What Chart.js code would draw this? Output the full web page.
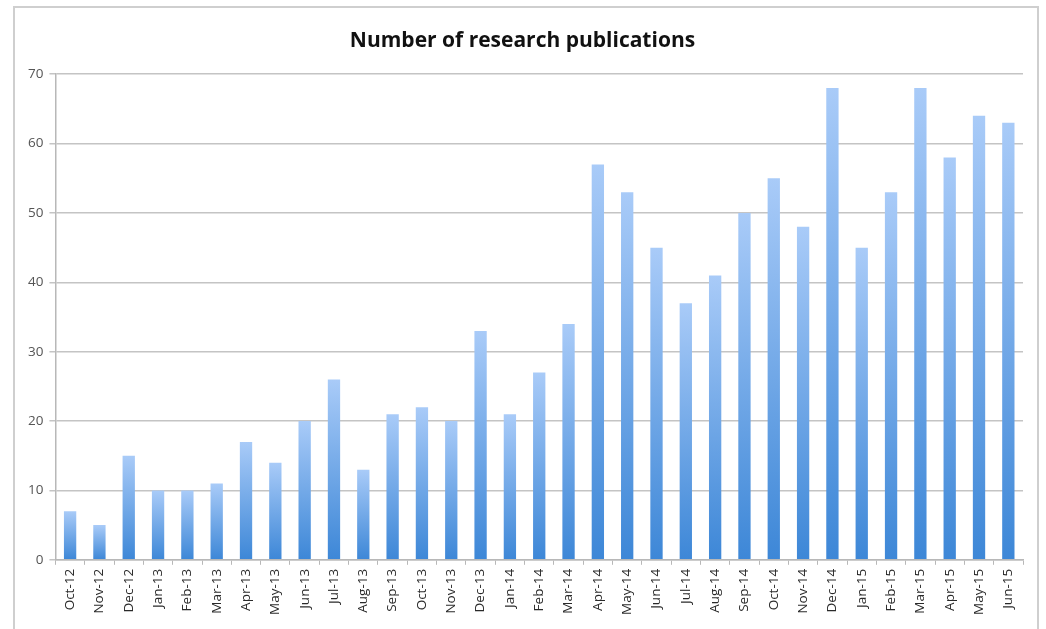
<!DOCTYPE html>
<html>
<head>
<meta charset="utf-8">
<script src="https://cdn.jsdelivr.net/npm/chart.js@4/dist/chart.umd.min.js"></script>
<style>
  html, body { margin: 0; padding: 0; background: #fff; overflow: hidden; }
  #wrap { position: relative; width: 1046px; height: 629px; }
  #frame { position: absolute; left: 13px; top: 6px; width: 1026px; height: 660px; border: 2px solid #cfcfcf; box-sizing: border-box; }
  canvas { position: absolute; left: 0; top: 0; }
</style>
</head>
<body>
<div id="wrap">
  <div id="frame"></div>
  <canvas id="pubChart" width="1046" height="629"></canvas>
</div>
<script>
const monthLabels = ["Oct-12", "Nov-12", "Dec-12", "Jan-13", "Feb-13", "Mar-13", "Apr-13", "May-13", "Jun-13",
    "Jul-13", "Aug-13", "Sep-13", "Oct-13", "Nov-13", "Dec-13", "Jan-14", "Feb-14", "Mar-14", "Apr-14",
    "May-14", "Jun-14", "Jul-14", "Aug-14", "Sep-14", "Oct-14", "Nov-14", "Dec-14", "Jan-15", "Feb-15",
    "Mar-15", "Apr-15", "May-15", "Jun-15"];
const publications = [7, 5, 15, 10, 10, 11, 17, 14, 20, 26, 13, 21, 22, 20, 33, 21, 27, 34, 57,
    53, 45, 37, 41, 50, 55, 48, 68, 45, 53, 68, 58, 64, 63];
const yTicks = [0, 10, 20, 30, 40, 50, 60, 70];

// each bar gets its own light-to-dark gradient
function barGradient(ctx) {
    const chart = ctx.chart;
    const y = chart.scales.y;
    if (!chart.chartArea || !y || ctx.raw === undefined) return '#6fa8ea';
    const top = y.getPixelForValue(ctx.raw);
    const bottom = y.getPixelForValue(0);
    if (!isFinite(top) || bottom - top < 1) return '#6fa8ea';
    const g = chart.ctx.createLinearGradient(0, top, 0, bottom);
    g.addColorStop(0, '#a9cbf8');
    g.addColorStop(1, '#3d87d7');
    return g;
}

new Chart(document.getElementById("pubChart"), {
    type: "bar",
    data: {
        labels: monthLabels,
        datasets: [
            {
                label: "Publications",
                data: publications,
                backgroundColor: barGradient,
                borderWidth: 0,
                categoryPercentage: 1.0,
                barPercentage: 0.42
            }
        ]
    },
    options: {
        responsive: false,
        animation: false,
        layout: {
            padding: { left: 22, right: 23, top: 6, bottom: 10 }
        },
        scales: {
            x: {
                grid: {
                    display: true,
                    drawOnChartArea: false,
                    offset: true,
                    tickLength: 5,
                    color: '#b8b8b8'
                },
                border: { color: '#b8b8b8', width: 1.5 },
                ticks: {
                    minRotation: 90,
                    maxRotation: 90,
                    autoSkip: false,
                    color: '#2a2a2a',
                    padding: 4,
                    font: { family: 'Open Sans', size: 13.5 }
                }
            },
            y: {
                min: 0,
                max: 70,
                afterBuildTicks: function (axis) {
                    axis.ticks = yTicks.map(v => ({ value: v }));
                },
                grid: {
                    color: '#c4c4c4',
                    lineWidth: 1.5,
                    tickLength: 6
                },
                border: { color: '#b8b8b8', width: 1.5 },
                ticks: {
                    color: '#555',
                    padding: 6,
                    font: { family: 'Open Sans', size: 13.5 }
                }
            }
        },
        plugins: {
            title: {
                display: true,
                text: 'Number of research publications',
                color: '#111',
                padding: { top: 22, bottom: 21 },
                font: { family: 'Open Sans', size: 21, weight: 'bold' }
            },
            legend: { display: false },
            tooltip: { enabled: false }
        }
    }
});
</script>
</body>
</html>
